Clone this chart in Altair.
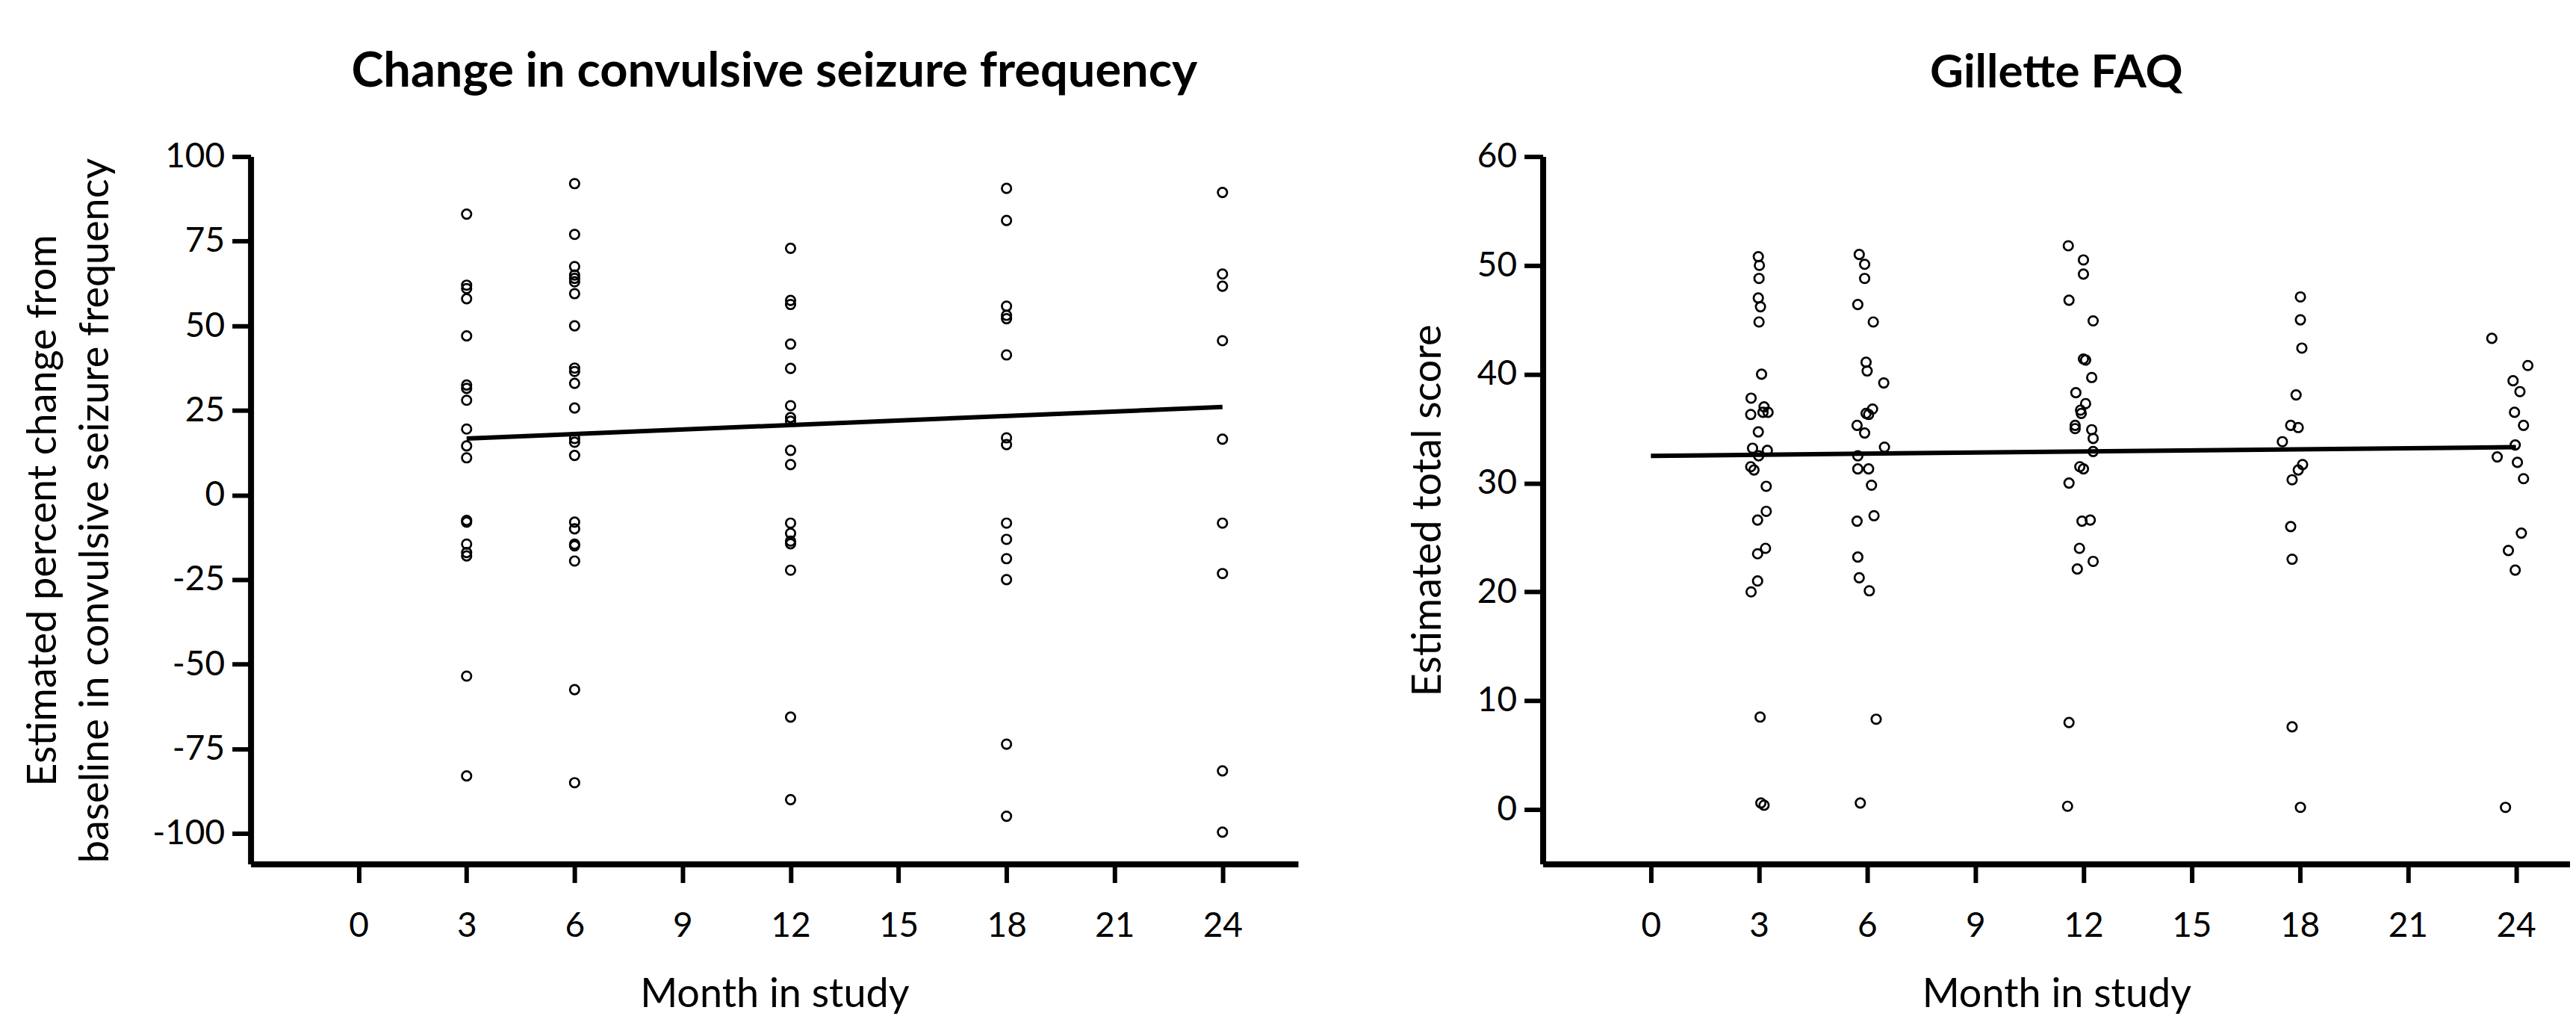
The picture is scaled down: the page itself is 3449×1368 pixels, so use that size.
import altair as alt
import pandas as pd

# ---------------- Left panel: change in convulsive seizure frequency ----------------
months_left = [3, 6, 12, 18, 24]
left_m3 = [83, 62, 61, 58, 47, 32.5, 31.5, 28, 19.5, 14.5, 11, -7.5, -8, -14.5, -17, -18, -53.5, -83]
left_m6 = [92, 77, 67.5, 65, 64, 63, 59.5, 50, 37.5, 36.5, 33, 25.7, 16.7, 15.6, 11.7,
           -8, -10, -14.5, -15, -19.5, -57.5, -85]
left_m12 = [72.9, 57.5, 56.3, 44.6, 37.4, 26.4, 22.9, 21.8, 13.2, 9.0,
            -8.3, -11.3, -13.6, -14.4, -22.2, -65.6, -90]
left_m18 = [90.6, 81.1, 55.8, 53.1, 52.1, 41.4, 16.9, 14.9, -8.3, -13.1, -18.8, -25, -73.6, -94.9]
left_m24 = [89.4, 65.3, 61.7, 45.6, 16.5, -8.3, -23.2, -81.5, -99.6]
left_values = [left_m3, left_m6, left_m12, left_m18, left_m24]

left_fit_month = [3, 24]
left_fit_value = [16.7, 26.0]

# ---------------- Right panel: Gillette FAQ ----------------
right_m3 = [50.8, 50.0, 48.8, 47.0, 46.2, 44.8, 40.0, 37.8, 37.0, 36.5, 36.5, 36.3, 34.7, 33.2,
            33.0, 32.5, 31.5, 31.2, 29.7, 27.4, 26.6, 24.0, 23.5, 21.0, 20.0, 8.5, 0.6, 0.4]
right_m3_off = [-0.02, 0.01, 0.0, -0.02, 0.04, 0.0, 0.07, -0.22, 0.14, 0.25, 0.11, -0.23, -0.02, -0.18,
                0.23, -0.01, -0.23, -0.14, 0.2, 0.2, -0.04, 0.18, -0.04, -0.04, -0.22, 0.03, 0.05, 0.14]
right_m6 = [51.0, 50.1, 48.8, 46.4, 44.8, 41.1, 40.3, 39.2, 36.8, 36.4, 36.3, 35.3, 34.6, 33.3,
            32.5, 31.3, 31.3, 29.8, 27.0, 26.5, 23.2, 21.3, 20.1, 8.3, 0.6]
right_m6_off = [-0.22, -0.07, -0.07, -0.26, 0.17, -0.03, 0.0, 0.46, 0.15, -0.03, 0.04, -0.28, -0.07, 0.48,
                -0.26, -0.26, 0.04, 0.12, 0.19, -0.28, -0.26, -0.22, 0.06, 0.25, -0.19]
right_m12 = [51.8, 50.5, 49.2, 46.8, 44.9, 41.4, 41.3, 39.7, 38.3, 37.3, 36.7, 36.4, 35.3, 35.0,
             34.9, 34.1, 32.9, 31.5, 31.3, 30.0, 26.5, 26.6, 24.0, 22.8, 22.1, 8.0, 0.3]
right_m12_off = [-0.42, 0.0, 0.0, -0.4, 0.27, 0.0, 0.06, 0.23, -0.21, 0.06, -0.08, -0.06, -0.23, -0.23,
                 0.23, 0.27, 0.27, -0.1, 0.0, -0.4, -0.04, 0.19, -0.11, 0.27, -0.17, -0.4, -0.44]
right_m18 = [47.1, 45.0, 42.4, 38.1, 35.3, 35.1, 33.8, 31.7, 31.2, 30.3, 26.0, 23.0, 7.6, 0.2]
right_m18_off = [0.02, 0.02, 0.06, -0.1, -0.25, -0.04, -0.48, 0.08, -0.04, -0.21, -0.25, -0.21, -0.21, 0.02]
right_m24 = [43.3, 40.8, 39.4, 38.4, 36.5, 35.3, 33.5, 32.4, 31.9, 30.4, 25.4, 23.8, 22.0, 0.2]
right_m24_off = [-0.67, 0.33, -0.08, 0.11, -0.04, 0.21, -0.02, -0.52, 0.04, 0.21, 0.15, -0.21, -0.02, -0.29]
right_values = [right_m3, right_m6, right_m12, right_m18, right_m24]
right_offsets = [right_m3_off, right_m6_off, right_m12_off, right_m18_off, right_m24_off]

right_fit_month = [0, 24]
right_fit_value = [32.5, 33.3]

x_ticks = [0, 3, 6, 9, 12, 15, 18, 21, 24]
left_y_ticks = [-100, -75, -50, -25, 0, 25, 50, 75, 100]
right_y_ticks = [0, 10, 20, 30, 40, 50, 60]

# ---------------- Tables ----------------
left_df = pd.DataFrame(
    [{"month": m, "value": v} for m, vals in zip(months_left, left_values) for v in vals]
)
right_df = pd.DataFrame(
    [{"month": m + o, "value": v}
     for m, vals, offs in zip(months_left, right_values, right_offsets)
     for v, o in zip(vals, offs)]
)
left_fit_df = pd.DataFrame({"month": left_fit_month, "value": left_fit_value})
right_fit_df = pd.DataFrame({"month": right_fit_month, "value": right_fit_value})

FONT = "Lato"
point_kw = dict(shape="circle", filled=False, color="black", size=155, strokeWidth=2.7, opacity=1)
plain_label = "'' + datum.value"

# ---------------- Left chart ----------------
lx = alt.X("month:Q", scale=alt.Scale(domain=[-3, 26.1], nice=False, zero=False),
           axis=alt.Axis(values=x_ticks, title="Month in study", labelExpr=plain_label))
ly = alt.Y("value:Q", scale=alt.Scale(domain=[-109, 100], nice=False, zero=False),
           axis=alt.Axis(values=left_y_ticks, labelExpr=plain_label,
                         title=["Estimated percent change from", "baseline in convulsive seizure frequency"],
                         titlePadding=48, titleLineHeight=70))

left_pts = alt.Chart(left_df).mark_point(**point_kw).encode(x=lx, y=ly)
left_line = alt.Chart(left_fit_df).mark_line(color="black", strokeWidth=6).encode(
    x=alt.X("month:Q"), y=alt.Y("value:Q"))
left = alt.layer(left_pts, left_line).properties(
    width=1404, height=948,
    title=alt.TitleParams("Change in convulsive seizure frequency", font=FONT, fontSize=65,
                          fontWeight="bold", color="black", offset=57, anchor="middle"),
)

# ---------------- Right chart ----------------
rx = alt.X("month:Q", scale=alt.Scale(domain=[-3, 25.5], nice=False, zero=False),
           axis=alt.Axis(values=x_ticks, title="Month in study", labelExpr=plain_label))
ry = alt.Y("value:Q", scale=alt.Scale(domain=[-5, 60], nice=False, zero=False),
           axis=alt.Axis(values=right_y_ticks, title="Estimated total score", titlePadding=38,
                         labelExpr=plain_label))

right_pts = alt.Chart(right_df).mark_point(**point_kw).encode(x=rx, y=ry)
right_line = alt.Chart(right_fit_df).mark_line(color="black", strokeWidth=6).encode(
    x=alt.X("month:Q"), y=alt.Y("value:Q"))
right = alt.layer(right_pts, right_line).properties(
    width=1377, height=948,
    title=alt.TitleParams("Gillette FAQ", font=FONT, fontSize=62,
                          fontWeight="bold", color="black", offset=57, anchor="middle"),
)

chart = (
    alt.hconcat(left, right, spacing=147)
    .properties(padding={"left": 23, "top": 55, "right": 0, "bottom": 0})
    .configure_view(stroke=None)
    .configure_axis(
        grid=False,
        domainColor="black", domainWidth=8,
        tickColor="black", tickWidth=6, tickSize=25,
        labelFont=FONT, labelFontSize=46, labelColor="black", labelPadding=10,
        titleFont=FONT, titleFontSize=54, titleFontWeight="normal", titleColor="black",
    )
    .configure_axisX(labelPadding=36, titlePadding=42)
)

chart.save("out.html", embed_options={"renderer": "svg", "actions": False})
